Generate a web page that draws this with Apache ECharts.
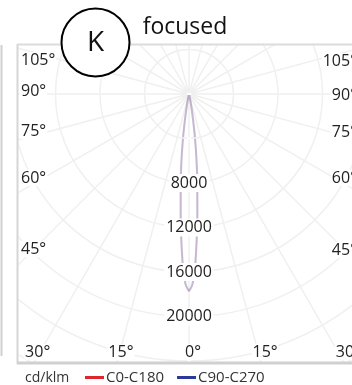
<!DOCTYPE html>
<html>
<head>
<meta charset="utf-8">
<script src="https://cdn.jsdelivr.net/npm/echarts@6/dist/echarts.min.js"></script>
<style>
html,body{margin:0;padding:0;background:#fff;}
#chart{width:352px;height:385px;}
</style>
</head>
<body>
<div id="chart"></div>
<script>
// ---- data ----
var gammaDeg = [0, 1, 2, 3, 4, 5, 6, 7, 8, 9, 10, 12, 15, 20, 30, 45, 60, 90, 120, 180];
var c0c180 = [17700, 17200, 15700, 13300, 10900, 8600, 6900, 5200, 3700, 2400, 1400, 500, 150, 60, 30, 15, 10, 5, 0, 0];
var c90c270 = [17700, 17100, 15500, 13100, 10700, 8500, 6800, 5100, 3600, 2300, 1300, 450, 140, 60, 30, 15, 10, 5, 0, 0];
var radiusLabels = [8000, 12000, 16000, 20000];
var leftAngleLabels = ['105°', '90°', '75°', '60°', '45°'];
var rightAngleLabels = ['105°', '90°', '75°', '60°', '45°'];
var bottomAngleLabels = ['30°', '15°', '0°', '15°', '30°'];
var bottomAngles = [-30, -15, 0, 15, 30];
var seriesNames = ['C0-C180', 'C90-C270'];
var unitLabel = 'cd/klm';
var titleText = 'focused';
var badgeText = 'K';

// ---- layout ----
var CX = 189, CY = 94, RMAX = 32000, RPX = 356;
var BOX_L = 18, BOX_T = 45, BOX_B = 363;
var sideY = [60, 91, 131, 178, 249];
var sideYR = [61, 95, 132, 178, 250];
var FONT = '"Open Sans", sans-serif';
var GRID = '#f0f0f0';

function planeData(vals) {
  var pts = [];
  for (var i = gammaDeg.length - 1; i >= 0; i--) pts.push([vals[i], gammaDeg[i] === 0 ? 0 : 360 - gammaDeg[i]]);
  for (var j = 1; j < gammaDeg.length; j++) pts.push([vals[j], gammaDeg[j]]);
  return pts;
}

var graphics = [];
// masks outside the frame
graphics.push({type:'rect', z:100, shape:{x:0,y:0,width:BOX_L-1,height:385}, style:{fill:'#fff'}});
graphics.push({type:'rect', z:100, shape:{x:0,y:0,width:352,height:BOX_T-1}, style:{fill:'#fff'}});
graphics.push({type:'rect', z:100, shape:{x:0,y:BOX_B,width:352,height:385-BOX_B}, style:{fill:'#fff'}});
// frame
graphics.push({type:'line', z:101, shape:{x1:BOX_L-0.5,y1:BOX_T-1,x2:BOX_L-0.5,y2:BOX_B+1}, style:{stroke:'#d6d6d6',lineWidth:2}});
graphics.push({type:'line', z:101, shape:{x1:BOX_L-1,y1:BOX_T-0.5,x2:352,y2:BOX_T-0.5}, style:{stroke:'#dcdcdc',lineWidth:2}});
graphics.push({type:'line', z:101, shape:{x1:BOX_L-1,y1:BOX_B,x2:352,y2:BOX_B}, style:{stroke:'#d0d0d0',lineWidth:3}});
// neighbouring panel edge
graphics.push({type:'line', z:101, shape:{x1:1.5,y1:BOX_T,x2:1.5,y2:356}, style:{stroke:'#cfcfcf',lineWidth:2}});

// side angle labels
leftAngleLabels.forEach(function(t, i){
  graphics.push({type:'text', z:102, x:20, y:sideY[i], style:{text:t, font:'16px '+FONT, fill:'#222', textVerticalAlign:'middle', textAlign:'left', backgroundColor:'#fff', padding:[0,1]}});
});
rightAngleLabels.forEach(function(t, i){
  graphics.push({type:'text', z:102, x:358, y:sideYR[i], style:{text:t, font:'16px '+FONT, fill:'#222', textVerticalAlign:'middle', textAlign:'right', backgroundColor:'#fff', padding:[0,1]}});
});
bottomAngleLabels.forEach(function(t, i){
  var x = CX + (BOX_B - CY) * Math.tan(bottomAngles[i] * Math.PI / 180) + 4;
  graphics.push({type:'text', z:102, x:x, y:352, style:{text:t, font:'16px '+FONT, fill:'#222', textVerticalAlign:'middle', textAlign:'center', backgroundColor:'#fff', padding:[0,1]}});
});
// title + badge
graphics.push({type:'text', z:103, x:185, y:27, style:{text:titleText, font:'23px '+FONT, fill:'#111', textAlign:'center', textVerticalAlign:'middle'}});
graphics.push({type:'circle', z:103, shape:{cx:95.5, cy:42.5, r:34}, style:{fill:'#fff', stroke:'#000', lineWidth:2}});
graphics.push({type:'text', z:104, x:95.5, y:43, style:{text:badgeText, font:'28px '+FONT, fill:'#111', textAlign:'center', textVerticalAlign:'middle'}});
// unit label
graphics.push({type:'text', z:103, x:25, y:378, style:{text:unitLabel, font:'14px '+FONT, fill:'#333', textAlign:'left', textVerticalAlign:'middle'}});

var chart = echarts.init(document.getElementById('chart'), null, {renderer:'canvas'});
chart.setOption({
  animation: false,
  backgroundColor: '#fff',
  polar: { center: [CX, CY], radius: RPX },
  angleAxis: {
    type: 'value', min: 0, max: 360, interval: 15, startAngle: 270, clockwise: true,
    axisLine: {show:false}, axisTick: {show:false}, axisLabel: {show:false},
    splitLine: {show:true, lineStyle:{color:GRID, width:1.5}}
  },
  radiusAxis: {
    type: 'value', min: 0, max: RMAX, interval: 4000,
    axisLine: {show:false}, axisTick: {show:false},
    splitLine: {show:true, lineStyle:{color:GRID, width:1.5}},
    axisLabel: {
      show: true, margin: 0, align: 'center', verticalAlign: 'middle',
      fontFamily: 'Open Sans', fontSize: 16, color: '#222',
      backgroundColor: '#fff', padding: [1, 2],
      formatter: function(v){ return radiusLabels.indexOf(v) >= 0 ? String(v) : ''; }
    },
    z: 50
  },
  legend: {
    z: 200, left: 80, top: 368, padding: [2, 5], itemWidth: 19, itemHeight: 3, itemGap: 13, icon: 'rect',
    textStyle: {fontFamily: 'Open Sans', fontSize: 15, color: '#333', padding:[0,0,0,-3]},
    data: [
      {name: seriesNames[0], itemStyle:{color:'#e0262d', opacity:1}},
      {name: seriesNames[1], itemStyle:{color:'#2b3a98', opacity:1}}
    ]
  },
  series: [
    {name: seriesNames[0], type:'line', coordinateSystem:'polar', data: planeData(c0c180), showSymbol:false, smooth:0.2,
     itemStyle:{color:'#e0262d', opacity:1}, lineStyle:{width:2, opacity:0.12}, z:3},
    {name: seriesNames[1], type:'line', coordinateSystem:'polar', data: planeData(c90c270), showSymbol:false, smooth:0.2,
     itemStyle:{color:'#2b3a98', opacity:1}, lineStyle:{width:2, opacity:0.26}, z:4}
  ],
  graphic: graphics
});
</script>
</body>
</html>
